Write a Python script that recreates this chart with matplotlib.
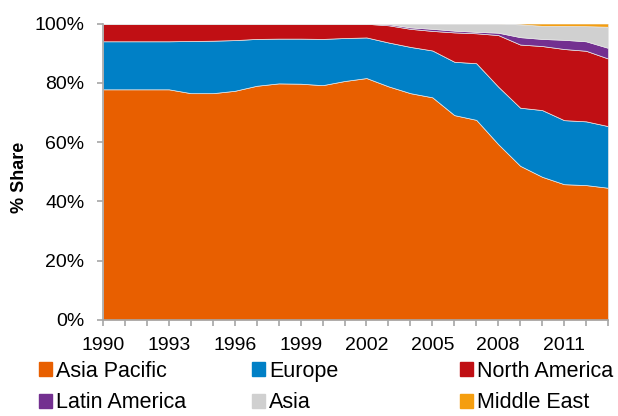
import numpy as np
import matplotlib.pyplot as plt
from matplotlib.ticker import FixedLocator

plt.rcParams['font.family'] = ['Liberation Sans', 'DejaVu Sans']

# Share of each region (%) per year
years = np.arange(1990, 2014)
asia_pacific = [77.8, 77.8, 77.8, 77.8, 76.5, 76.5, 77.3, 79.0, 79.8, 79.7, 79.2, 80.6,
                81.6, 78.8, 76.5, 75.1, 69.1, 67.5, 59.3, 52.0, 48.3, 45.8, 45.5, 44.6]
europe = [16.2, 16.2, 16.2, 16.2, 17.6, 17.7, 17.1, 15.8, 15.1, 15.2, 15.6, 14.5,
          13.7, 14.8, 15.6, 15.8, 18.0, 19.1, 19.4, 19.6, 22.5, 21.6, 21.5, 20.8]
north_america = [6.0, 6.0, 6.0, 6.0, 5.9, 5.8, 5.6, 5.2, 5.1, 5.1, 5.2, 4.9,
                 4.6, 5.8, 6.1, 6.6, 9.9, 10.1, 17.4, 21.3, 21.6, 24.0, 23.8, 22.8]
latin_america = [0, 0, 0, 0, 0, 0, 0, 0, 0, 0, 0, 0,
                 0.1, 0.4, 0.5, 0.7, 0.6, 0.5, 0.8, 2.5, 2.4, 3.1, 3.2, 3.6]
asia = [0, 0, 0, 0, 0, 0, 0, 0, 0, 0, 0, 0,
        0, 0.2, 1.3, 1.8, 2.4, 2.8, 3.1, 4.3, 4.4, 4.7, 5.1, 7.1]
middle_east = [0, 0, 0, 0, 0, 0, 0, 0, 0, 0, 0, 0,
               0, 0, 0, 0, 0, 0, 0, 0.3, 0.8, 0.8, 0.9, 1.1]

labels = ["Asia Pacific", "Europe", "North America", "Latin America", "Asia", "Middle East"]
colors = ["#E85F00", "#0080C6", "#C00F14", "#733090", "#D0D0D0", "#F59E0F"]

fig = plt.figure(figsize=(6.18, 4.16), dpi=100)
ax = fig.add_axes([0.1667, 0.2308, 0.8171, 0.7127])

ax.stackplot(years, asia_pacific, europe, north_america, latin_america, asia,
             middle_east, colors=colors, labels=labels,
             edgecolor="#e6e6e6", linewidth=0.5)

ax.set_xlim(1990, 2013)
ax.set_ylim(0, 100)

# axes look
for side in ["top", "right"]:
    ax.spines[side].set_visible(False)
for side in ["left", "bottom"]:
    ax.spines[side].set_color("#a6a6a6")
    ax.spines[side].set_linewidth(1.2)

ax.set_yticks(range(0, 101, 20))
ax.set_yticklabels([f"{v}%" for v in range(0, 101, 20)])
ax.set_xticks(years[::3])
ax.set_xticklabels([str(y) for y in years[::3]])
ax.xaxis.set_minor_locator(FixedLocator(years))
ax.tick_params(axis="both", which="both", color="#a6a6a6", width=1.2, length=4.5,
               labelsize=14, labelcolor="black")
ax.tick_params(axis="x", which="both", pad=8)
ax.tick_params(axis="y", which="both", pad=9)
ax.set_ylabel("% Share", fontsize=13, fontweight="bold")
ax.yaxis.set_label_coords(-0.149, 0.481)

# legend: three columns, two rows
handles = [plt.Rectangle((0, 0), 1, 1, color=c) for c in colors]
col_x = [0.063, 0.408, 0.744]
for i in range(3):
    fig.legend([handles[i], handles[i + 3]], [labels[i], labels[i + 3]],
               loc="upper left", bbox_to_anchor=(col_x[i], 0.133), ncol=1,
               frameon=False, fontsize=15.5, handlelength=0.6, handleheight=0.6,
               handletextpad=0.2, labelspacing=0.5, borderpad=0, borderaxespad=0)

fig.savefig("out.png", dpi=100)
